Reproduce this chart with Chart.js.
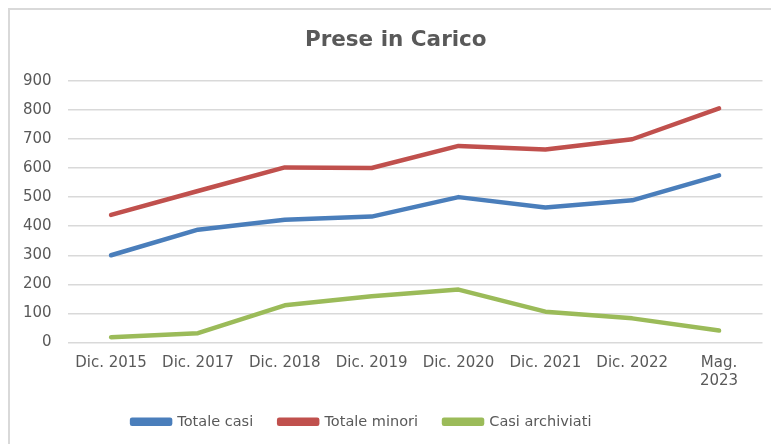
<!DOCTYPE html>
<html><head><meta charset="utf-8">
<script src="https://cdn.jsdelivr.net/npm/chart.js@4"></script>
<style>
html,body{margin:0;padding:0;background:#fff;overflow:hidden;}
canvas{display:block;}
</style></head>
<body>
<canvas id="c" width="771" height="444"></canvas>
<script>
const categories = ["Dic. 2015","Dic. 2017","Dic. 2018","Dic. 2019","Dic. 2020","Dic. 2021","Dic. 2022",["Mag.","2023"]];
const totaleCasi = [300, 388, 422, 433, 500, 464, 489, 575];
const totaleMinori = [439, 521, 602, 600, 676, 664, 699, 805];
const casiArchiviati = [18, 32, 128, 159, 182, 106, 83, 41];
const yTicks = {min:0, max:900, step:100};

const FONT = "'DejaVu Sans', sans-serif";
const grey = '#595959';
function ds(label, data, color){
  return {label, data, borderColor:color, backgroundColor:color, borderWidth:4.5,
    pointRadius:0, pointHoverRadius:0, tension:0, borderCapStyle:'round', borderJoinStyle:'round'};
}
const boxShift = {
  id:'boxShift',
  afterLayout(chart){
    const l = chart.legend;
    if (l) { l.left -= 23; l.right -= 23; }
    const t = chart.titleBlock;
    if (t) { t.left += 11; t.right += 11; }
  }
};
const frame = {
  id:'frame',
  beforeDraw(chart){
    const ctx = chart.ctx;
    ctx.save();
    ctx.strokeStyle = '#d9d9d9';
    ctx.lineWidth = 2;
    ctx.beginPath();
    ctx.moveTo(9, chart.height);
    ctx.lineTo(9, 9);
    ctx.lineTo(chart.width, 9);
    ctx.stroke();
    ctx.restore();
  }
};
new Chart(document.getElementById('c'), {
  type:'line',
  data:{labels:categories, datasets:[
    ds('Totale casi', totaleCasi, '#4a7ebb'),
    ds('Totale minori', totaleMinori, '#c0504d'),
    ds('Casi archiviati', casiArchiviati, '#9bbb59')
  ]},
  plugins:[boxShift, frame],
  options:{
    responsive:false, animation:false,
    layout:{padding:{left:7,right:8.5,top:0,bottom:5}},
    plugins:{
      title:{display:true, text:'Prese in Carico', color:grey,
        font:{family:FONT, size:21.5, weight:'bold'}, padding:{top:28,bottom:27}},
      legend:{position:'bottom',
        labels:{color:grey, font:{family:FONT, size:14.5}, boxWidth:38, boxHeight:4, padding:26}},
      tooltip:{enabled:false}
    },
    scales:{
      x:{offset:true, grid:{display:false}, border:{display:false},
        afterFit(scale){ scale.height -= 6; },
        ticks:{color:grey, font:{family:FONT, size:15}, maxRotation:0, autoSkip:false, padding:4}},
      y:{min:yTicks.min, max:yTicks.max, border:{display:false},
        grid:{color:'#d9d9d9', lineWidth:1.5, drawTicks:false},
        ticks:{stepSize:yTicks.step, color:grey, font:{family:FONT, size:15}, padding:16}}
    }
  }
});
</script>
</body></html>
